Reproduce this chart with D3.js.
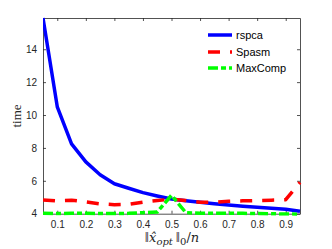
<!DOCTYPE html>
<html><head><meta charset="utf-8">
<script src="https://cdn.jsdelivr.net/npm/d3@7"></script>
<style>body{margin:0;background:#fff}svg{display:block}</style>
</head><body><svg id="c" width="332" height="249"></svg>
<script>
const xs = [0.05,0.1,0.15,0.2,0.25,0.3,0.35,0.4,0.45,0.5,0.55,0.6,0.65,0.7,0.75,0.8,0.85,0.9,0.95];
const rspca = [15.9,10.5,8.25,7.15,6.37,5.82,5.55,5.28,5.08,4.89,4.79,4.7,4.61,4.53,4.46,4.39,4.33,4.27,4.15];
const spasm = [4.84,4.78,4.82,4.72,4.6,4.55,4.57,4.7,4.8,4.88,4.8,4.7,4.7,4.75,4.78,4.8,4.82,4.85,5.9];
const maxcomp = [4.02,4.01,4.02,4.02,4.01,4.01,4.02,4.06,4.1,5.12,4.07,4.02,4.02,4.03,4.02,4.01,4.0,3.98,3.97];
const xTicks = [0.1,0.2,0.3,0.4,0.5,0.6,0.7,0.8,0.9];
const yTicks = [4,6,8,10,12,14];
const seriesNames = ["rspca","Spasm","MaxComp"];

const svg = d3.select("#c");
const L=43, R=300, T=18, B=213.7;
const x = d3.scaleLinear().domain([0.05,0.95]).range([L,R]);
const y = d3.scaleLinear().domain([4,15.9]).range([B,T]);
const ax = "#262626";
const tickFont = "'Liberation Sans', Arial, sans-serif";

const defs = svg.append("defs");
defs.append("clipPath").attr("id","clip").append("rect")
  .attr("x",L).attr("y",T-2).attr("width",R-L+2).attr("height",B-T+4);

// axes
const gx = svg.append("g").attr("transform",`translate(0,${B})`)
  .call(d3.axisBottom(x).tickValues(xTicks).tickSizeInner(-3).tickSizeOuter(0).tickPadding(7).tickFormat(d3.format(".1f")));
const gxt = svg.append("g").attr("transform",`translate(0,${T})`)
  .call(d3.axisTop(x).tickValues(xTicks).tickSizeInner(-3).tickSizeOuter(0).tickFormat(""));
const gy = svg.append("g").attr("transform",`translate(${L},0)`)
  .call(d3.axisLeft(y).tickValues(yTicks).tickSizeInner(-3).tickSizeOuter(0).tickPadding(6).tickFormat(d3.format("d")));
const gyr = svg.append("g").attr("transform",`translate(${R},0)`)
  .call(d3.axisRight(y).tickValues(yTicks).tickSizeInner(-3).tickSizeOuter(0).tickFormat(""));
[gx,gxt,gy,gyr].forEach(g=>{
  g.selectAll("path").attr("stroke",ax).attr("stroke-width",0.8);
  g.selectAll("line").attr("stroke",ax).attr("stroke-width",0.8);
  g.selectAll("text").attr("fill",ax).style("font-family",tickFont).style("font-size","10px");
});

const line = d3.line().x((d,i)=>x(xs[i])).y(d=>y(d));
const plot = svg.append("g").attr("clip-path","url(#clip)");
const styles = [
  {data:rspca,color:"#0000ff",dash:null,w:3.5},
  {data:spasm,color:"#ff0000",dash:"12,10",w:3.5},
  {data:maxcomp,color:"#00ff00",dash:"10,3,5,3",w:3.5}
];
styles.forEach(s=>{
  plot.append("path").datum(s.data).attr("d",line)
    .attr("fill","none").attr("stroke",s.color).attr("stroke-width",s.w)
    .attr("stroke-dasharray",s.dash).attr("stroke-linejoin","round");
});

// legend
const leg = svg.append("g");
const legY = [35,52,68];
seriesNames.forEach((n,i)=>{
  const s = styles[i];
  leg.append("line").attr("x1",208).attr("x2",232).attr("y1",legY[i]).attr("y2",legY[i])
    .attr("stroke",s.color).attr("stroke-width",s.w).attr("stroke-dasharray",s.dash);
  leg.append("text").attr("x",236).attr("y",legY[i]).attr("dy","0.35em")
    .style("font-family",tickFont).style("font-size","11px").attr("fill","#000").text(n);
});

// y label
svg.append("text").attr("transform","translate(21,116) rotate(-90)")
  .attr("text-anchor","middle").style("font-family","'Liberation Serif','DejaVu Serif',serif")
  .style("font-size","13px").attr("fill","#262626").text("time");

// x label
const xl = svg.append("text").attr("x",172).attr("y",242).attr("text-anchor","middle")
  .style("font-family","'DejaVu Serif','Liberation Serif',serif").style("font-size","13px").attr("fill","#262626");
xl.append("tspan").style("font-family","'Liberation Serif',serif").style("font-size","15px").text("\u2016");
xl.append("tspan").style("font-style","italic").text("x\u0302");
xl.append("tspan").style("font-style","italic").style("font-size","10px").attr("dy","3").text("opt");
xl.append("tspan").attr("dy","-3").style("font-family","'Liberation Serif',serif").style("font-size","15px").text("\u2009\u2016");
xl.append("tspan").style("font-size","10px").attr("dy","3").text("0");
xl.append("tspan").attr("dy","-3").text("/");
xl.append("tspan").style("font-style","italic").text("n");
</script></body></html>
